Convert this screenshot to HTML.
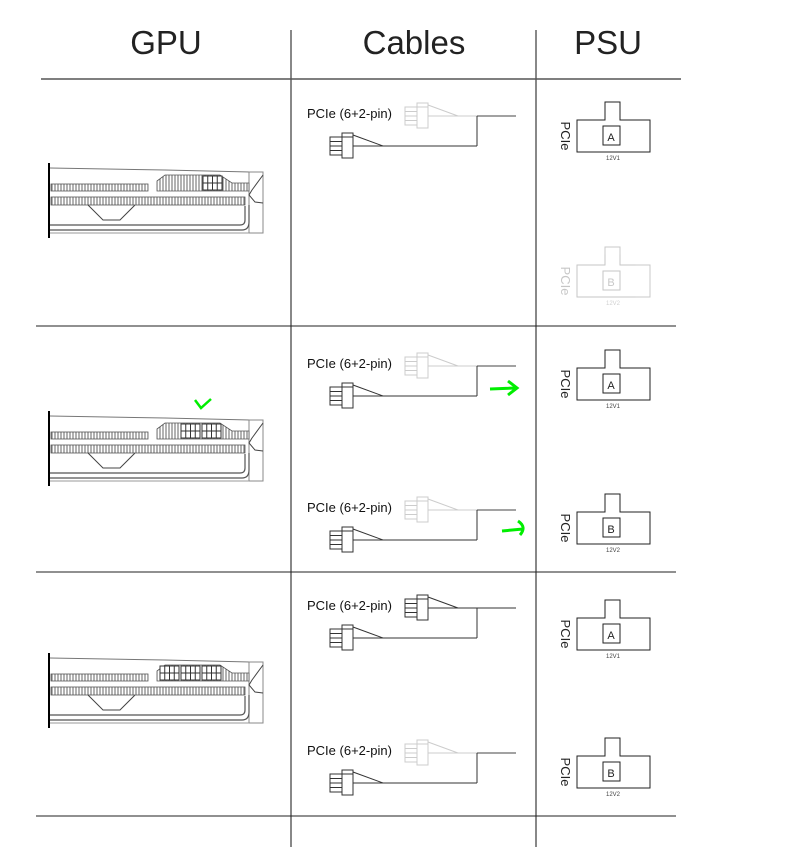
<!DOCTYPE html>
<html><head><meta charset="utf-8"><style>
html,body{margin:0;padding:0;background:#fff;}
svg{display:block;font-family:"Liberation Sans",sans-serif;}
</style></head><body>
<svg width="787" height="847" viewBox="0 0 787 847" xmlns="http://www.w3.org/2000/svg">
<defs>
<pattern id="hatch" width="3" height="8" patternUnits="userSpaceOnUse"><rect width="3" height="8" fill="#fff"/><line x1="1" y1="0" x2="1" y2="8" stroke="#666" stroke-width="1"/></pattern>
<g id="gpu">
  <line x1="49" y1="163" x2="49" y2="238" stroke="#000" stroke-width="2"/>
  <polyline points="50,168 165,170 250,172" fill="none" stroke="#777" stroke-width="1"/>
  <rect x="249" y="172" width="14" height="61" fill="none" stroke="#888" stroke-width="1"/>
  <polyline points="263,175 252,190 249,195 255,202 263,203" fill="none" stroke="#444" stroke-width="1"/>
  <rect x="51" y="184" width="97" height="7" fill="url(#hatch)" stroke="#555" stroke-width="0.8"/>
  <polygon points="157,191 157,181 165,175 220,175 232,183 249,183 249,191" fill="url(#hatch)" stroke="#555" stroke-width="0.8"/>
  <rect x="51" y="197" width="194" height="8" fill="url(#hatch)" stroke="#555" stroke-width="0.8"/>
  <polyline points="88,205 103,220 120,220 135,205" fill="none" stroke="#444" stroke-width="1"/>
  <path d="M50,225 L240,225 Q245,225 245,220 L245,206" fill="none" stroke="#555" stroke-width="1.2"/>
  <path d="M50,230 L242,230 Q249,230 249,222 L249,205" fill="none" stroke="#555" stroke-width="1.2"/>
  <line x1="50" y1="233" x2="249" y2="233" stroke="#999" stroke-width="1"/>
</g>
<g id="blk">
  <rect x="0" y="0" width="19" height="14" fill="#fff" stroke="#333" stroke-width="1"/>
  <path d="M4.75,0V14M9.5,0V14M14.25,0V14M0,7H19" stroke="#333" stroke-width="1"/>
</g>
<g id="conn">
  <rect x="0" y="4" width="12" height="18" fill="none" stroke="currentColor" stroke-width="1"/>
  <path d="M0,8.5H12M0,13H12M0,17.5H12" stroke="currentColor" stroke-width="1"/>
  <rect x="12" y="0" width="11" height="25" fill="#fff" stroke="currentColor" stroke-width="1"/>
  <line x1="12" y1="4" x2="23" y2="4" stroke="currentColor"/>
  <line x1="23" y1="2" x2="53" y2="13" stroke="currentColor"/>
</g>
<g id="psu">
  <path d="M577,120 H605 V102 H620 V120 H650 V152 H577 Z" fill="none" stroke="#222" stroke-width="1"/>
  <rect x="603" y="126" width="17" height="19" fill="none" stroke="#222" stroke-width="1"/>
</g>
</defs>

<!-- header -->
<text x="166" y="54" font-size="33" text-anchor="middle" fill="#222">GPU</text>
<text x="414" y="54" font-size="33" text-anchor="middle" fill="#222">Cables</text>
<text x="608" y="54" font-size="33" text-anchor="middle" fill="#222">PSU</text>
<line x1="291" y1="30" x2="291" y2="847" stroke="#111" stroke-width="1"/>
<line x1="536" y1="30" x2="536" y2="847" stroke="#111" stroke-width="1"/>
<line x1="41" y1="79" x2="681" y2="79" stroke="#555" stroke-width="1.5"/>
<line x1="36" y1="326" x2="676" y2="326" stroke="#222" stroke-width="1"/>
<line x1="36" y1="572" x2="676" y2="572" stroke="#222" stroke-width="1"/>
<line x1="36" y1="816" x2="676" y2="816" stroke="#222" stroke-width="1"/>

<!-- GPUs -->
<use href="#gpu"/>
<use href="#blk" x="203" y="176"/>
<g transform="translate(0,248)"><use href="#gpu"/><use href="#blk" x="181" y="176"/><use href="#blk" x="202" y="176"/></g>
<g transform="translate(0,490)"><use href="#gpu"/><use href="#blk" x="160" y="176"/><use href="#blk" x="181" y="176"/><use href="#blk" x="202" y="176"/></g>
<path d="M195,400 L201,408 L211,399" fill="none" stroke="#0e0" stroke-width="2.5"/>

<!-- cables: row1 -->
<g id="cab1">
  <text x="307" y="118" font-size="13" fill="#111">PCIe (6+2-pin)</text>
  <g style="color:#ccc"><use href="#conn" x="405" y="103"/><line x1="428" y1="116" x2="477" y2="116" stroke="#ccc"/></g>
  <line x1="477" y1="116" x2="516" y2="116" stroke="#444"/>
  <g style="color:#333"><use href="#conn" x="330" y="133"/><line x1="353" y1="146" x2="477" y2="146" stroke="#333"/></g>
  <line x1="477" y1="116" x2="477" y2="146" stroke="#333"/>
</g>
<use href="#cab1" y="250"/>
<use href="#cab1" y="394"/>
<g transform="translate(0,637)"><use href="#cab1"/></g>
<g transform="translate(0,492)">
  <text x="307" y="118" font-size="13" fill="#111">PCIe (6+2-pin)</text>
  <g style="color:#333"><use href="#conn" x="405" y="103"/><line x1="428" y1="116" x2="516" y2="116" stroke="#333"/></g>
  <g style="color:#333"><use href="#conn" x="330" y="133"/><line x1="353" y1="146" x2="477" y2="146" stroke="#333"/></g>
  <line x1="477" y1="116" x2="477" y2="146" stroke="#333"/>
</g>
<!-- green arrows -->
<path d="M490,389 L516,388 M508,381 L517,388 L508,395" fill="none" stroke="#0e0" stroke-width="3"/>
<path d="M502,531 L523,529 M518,521 Q527,527 520,535" fill="none" stroke="#0e0" stroke-width="3"/>

<!-- PSU -->
<g id="psuA">
  <use href="#psu"/>
  <text x="611" y="141" font-size="11" text-anchor="middle" fill="#222">A</text>
  <text transform="translate(561,136) rotate(90)" font-size="13" text-anchor="middle" fill="#222">PCIe</text>
  <text x="613" y="160" font-size="6" text-anchor="middle" fill="#444">12V1</text>
</g>
<g id="psuB" transform="translate(0,145)" opacity="0.25">
  <use href="#psu"/>
  <text x="611" y="141" font-size="11" text-anchor="middle" fill="#222">B</text>
  <text transform="translate(561,136) rotate(90)" font-size="13" text-anchor="middle" fill="#222">PCIe</text>
  <text x="613" y="160" font-size="6" text-anchor="middle" fill="#444">12V2</text>
</g>
<use href="#psuA" y="248"/>
<g transform="translate(0,392)">
  <use href="#psu"/>
  <text x="611" y="141" font-size="11" text-anchor="middle" fill="#222">B</text>
  <text transform="translate(561,136) rotate(90)" font-size="13" text-anchor="middle" fill="#222">PCIe</text>
  <text x="613" y="160" font-size="6" text-anchor="middle" fill="#444">12V2</text>
</g>
<use href="#psuA" y="498"/>
<g transform="translate(0,636)">
  <use href="#psu"/>
  <text x="611" y="141" font-size="11" text-anchor="middle" fill="#222">B</text>
  <text transform="translate(561,136) rotate(90)" font-size="13" text-anchor="middle" fill="#222">PCIe</text>
  <text x="613" y="160" font-size="6" text-anchor="middle" fill="#444">12V2</text>
</g>
</svg>
</body></html>
